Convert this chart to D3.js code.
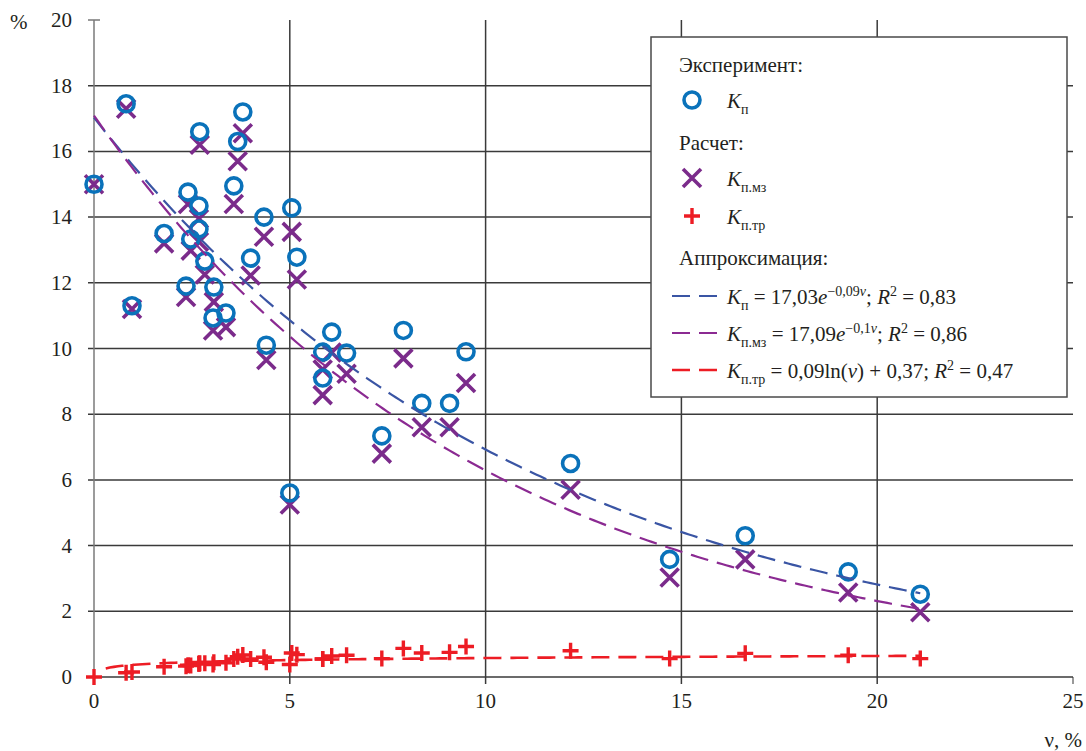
<!DOCTYPE html>
<html>
<head>
<meta charset="utf-8">
<script src="https://cdn.jsdelivr.net/npm/d3@7"></script>
<style>
  html, body { margin: 0; padding: 0; background: #fff; }
  svg { display: block; }
</style>
</head>
<body>
<svg id="chart" width="1086" height="751"></svg>
<script>
// Share of the fraction, ν (%)
const v     = [0, 0.82, 0.97, 1.79, 2.35, 2.40, 2.47, 2.68, 2.68, 2.70, 2.83, 3.04, 3.06, 3.37, 3.57, 3.67, 3.80, 4.00, 4.34, 4.40, 5.00, 5.05, 5.18, 5.84, 5.84, 6.07, 6.45, 7.35, 7.90, 8.37, 9.08, 9.50, 12.17, 14.70, 16.63, 19.26, 21.10];
// Experiment: K_п (%)
const kP    = [15.0, 17.45, 11.3, 13.5, 11.9, 14.76, 13.33, 14.34, 13.64, 16.6, 12.66, 10.93, 11.87, 11.08, 14.95, 16.3, 17.2, 12.75, 14.0, 10.1, 5.6, 14.28, 12.78, 9.89, 9.1, 10.5, 9.86, 7.34, 10.55, 8.33, 8.33, 9.9, 6.5, 3.58, 4.3, 3.2, 2.52];
// Calculation: K_п.мз (%)
const kPMz  = [15.0, 17.3, 11.2, 13.2, 11.57, 14.4, 12.98, 13.95, 13.25, 16.2, 12.25, 10.55, 11.42, 10.65, 14.4, 15.7, 16.55, 12.22, 13.4, 9.65, 5.25, 13.55, 12.1, 9.36, 8.58, 9.88, 9.23, 6.8, 9.7, 7.6, 7.6, 8.95, 5.7, 3.03, 3.58, 2.57, 1.97];
// Calculation: K_п.тр (%)
const kPTr  = [0.0, 0.13, 0.15, 0.31, 0.33, 0.36, 0.35, 0.40, 0.40, 0.42, 0.42, 0.38, 0.45, 0.43, 0.55, 0.62, 0.67, 0.55, 0.6, 0.45, 0.38, 0.73, 0.68, 0.55, 0.55, 0.64, 0.66, 0.56, 0.87, 0.73, 0.75, 0.93, 0.8, 0.56, 0.72, 0.66, 0.56];

// Approximation coefficients
const fitP   = { a: 17.03, b: -0.09 };  // a·e^(b·ν)
const fitPMz = { a: 17.09, b: -0.1 };   // a·e^(b·ν)
const fitPTr = { a: 0.09, c: 0.37 };    // a·ln(ν) + c

const xTicks = [0, 5, 10, 15, 20, 25];
const yTicks = [0, 2, 4, 6, 8, 10, 12, 14, 16, 18, 20];

const C_BLUE = "#0a72ba", C_PURPLE = "#7b2b8b", C_RED = "#ed1c24";
const C_LBLUE = "#3a55a4", C_LPURPLE = "#8b2a92";
const FONT = "'Times New Roman', 'Liberation Serif', serif";
const INK = "#231f20";
const DASH = "18,9";
const FS = 21;

const svg = d3.select("#chart");
const x = d3.scaleLinear().domain([0, 25]).range([94, 1073]);
const y = d3.scaleLinear().domain([0, 20]).range([677, 20]);

function label(g, xp, yp, str, anchor) {
  return g.append("text").attr("x", xp).attr("y", yp).attr("text-anchor", anchor || "start")
    .attr("font-size", FS).attr("fill", INK).style("font-family", FONT).text(str);
}

// Grid
const grid = svg.append("g");
yTicks.filter(t => t > 0 && t < 20).forEach(t => {
  grid.append("line").attr("x1", x(0) - 6).attr("x2", x(25)).attr("y1", y(t)).attr("y2", y(t))
    .attr("stroke", "#3a3a3a").attr("stroke-width", 1.5);
});
xTicks.filter(t => t > 0 && t < 25).forEach(t => {
  grid.append("line").attr("x1", x(t)).attr("x2", x(t)).attr("y1", y(20)).attr("y2", y(0) + 7)
    .attr("stroke", "#3a3a3a").attr("stroke-width", 1.5);
});
// top tick on y axis
grid.append("line").attr("x1", x(0) - 6).attr("x2", x(0) + 6).attr("y1", y(20)).attr("y2", y(20))
  .attr("stroke", "#555").attr("stroke-width", 1.2);
// tick at 25
grid.append("line").attr("x1", x(25)).attr("x2", x(25)).attr("y1", y(0)).attr("y2", y(0) + 7)
  .attr("stroke", "#555").attr("stroke-width", 1.2);
// Axes
svg.append("line").attr("x1", x(0)).attr("x2", x(0)).attr("y1", y(20)).attr("y2", y(0) + 7)
  .attr("stroke", "#7a7a7a").attr("stroke-width", 1.5);
svg.append("line").attr("x1", x(0) - 6).attr("x2", x(25)).attr("y1", y(0)).attr("y2", y(0))
  .attr("stroke", "#3a3a3a").attr("stroke-width", 1.5);

// Tick labels
const axisText = svg.append("g");
yTicks.forEach(d => label(axisText, 72, y(d) + 7, d, "end"));
xTicks.forEach(d => label(axisText, x(d), 708, d, "middle"));
label(axisText, 10, 29, "%");
label(axisText, 1082, 747, "ν, %", "end");

// Marker shapes
function drawCircle(g, cx, cy) {
  g.append("circle").attr("cx", cx).attr("cy", cy).attr("r", 8)
    .attr("fill", "none").attr("stroke", C_BLUE).attr("stroke-width", 3.6);
}
function drawCross(g, cx, cy) {
  const s = 9;
  g.append("path").attr("d", `M${cx - s},${cy - s}L${cx + s},${cy + s}M${cx - s},${cy + s}L${cx + s},${cy - s}`)
    .attr("stroke", C_PURPLE).attr("stroke-width", 3.6).attr("fill", "none");
}
function drawPlus(g, cx, cy) {
  const s = 8;
  g.append("path").attr("d", `M${cx - s},${cy}L${cx + s},${cy}M${cx},${cy - s}L${cx},${cy + s}`)
    .attr("stroke", C_RED).attr("stroke-width", 3.4).attr("fill", "none");
}

const pts = v.map((d, i) => ({ v: d, p: kP[i], mz: kPMz[i], tr: kPTr[i] }));
const gPlus = svg.append("g"), gCross = svg.append("g"), gCirc = svg.append("g");
pts.forEach(d => drawPlus(gPlus, x(d.v), y(d.tr)));
pts.forEach(d => drawCross(gCross, x(d.v), y(d.mz)));
pts.forEach(d => drawCircle(gCirc, x(d.v), y(d.p)));

// Trend lines
const vMax = d3.max(v);
const line = d3.line().x(d => x(d[0])).y(d => y(d[1]));
function curve(f, v0) {
  const n = 200, out = [];
  for (let i = 0; i <= n; i++) { const t = v0 + (vMax - v0) * i / n; out.push([t, f(t)]); }
  return out;
}
svg.append("path").attr("d", line(curve(t => fitP.a * Math.exp(fitP.b * t), 0)))
  .attr("fill", "none").attr("stroke", C_LBLUE).attr("stroke-width", 2.2).attr("stroke-dasharray", DASH);
svg.append("path").attr("d", line(curve(t => fitPMz.a * Math.exp(fitPMz.b * t), 0)))
  .attr("fill", "none").attr("stroke", C_LPURPLE).attr("stroke-width", 2.2).attr("stroke-dasharray", DASH);
svg.append("path").attr("d", line(curve(t => fitPTr.a * Math.log(t) + fitPTr.c, 0.3)))
  .attr("fill", "none").attr("stroke", C_RED).attr("stroke-width", 2.6).attr("stroke-dasharray", DASH);

// Legend
const lg = svg.append("g");
lg.append("rect").attr("x", 651).attr("y", 37).attr("width", 416).attr("height", 360)
  .attr("fill", "#fff").attr("stroke", "#4a4a4a").attr("stroke-width", 1.5);

function richText(xp, yp, parts) {
  const t = lg.append("text").attr("x", xp).attr("y", yp).attr("font-size", FS)
    .attr("fill", INK).style("font-family", FONT);
  let level = 0;
  parts.forEach(p => {
    const target = p.sub ? 6 : p.sup ? -8 : 0;
    const ts = t.append("tspan").text(p.t).attr("dy", target - level).style("font-family", FONT);
    level = target;
    if (p.sub || p.sup) ts.attr("font-size", 14);
    if (p.i) ts.style("font-style", "italic");
  });
  return t;
}

richText(679, 72, [{ t: "Эксперимент:" }]);
drawCircle(lg, 692, 100);
richText(727, 108, [{ t: "K", i: 1 }, { t: "п", sub: 1 }]);
richText(679, 150, [{ t: "Расчет:" }]);
drawCross(lg, 692, 178);
richText(727, 186, [{ t: "K", i: 1 }, { t: "п.мз", sub: 1 }]);
drawPlus(lg, 692, 216);
richText(727, 224, [{ t: "K", i: 1 }, { t: "п.тр", sub: 1 }]);
richText(679, 265, [{ t: "Аппроксимация:" }]);

function legLine(yp, color, w) {
  lg.append("line").attr("x1", 672).attr("x2", 717).attr("y1", yp).attr("y2", yp)
    .attr("stroke", color).attr("stroke-width", w).attr("stroke-dasharray", DASH);
}
legLine(296, C_LBLUE, 2.2);
richText(727, 304, [{ t: "K", i: 1 }, { t: "п", sub: 1 }, { t: " = 17,03" }, { t: "e", i: 1 },
  { t: "−0,09", sup: 1 }, { t: "v", sup: 1, i: 1 }, { t: "; " }, { t: "R", i: 1 }, { t: "2", sup: 1 }, { t: " = 0,83" }]);
legLine(333, C_LPURPLE, 2.2);
richText(727, 341, [{ t: "K", i: 1 }, { t: "п.мз", sub: 1 }, { t: " = 17,09" }, { t: "e", i: 1 },
  { t: "−0,1", sup: 1 }, { t: "v", sup: 1, i: 1 }, { t: "; " }, { t: "R", i: 1 }, { t: "2", sup: 1 }, { t: " = 0,86" }]);
legLine(370, C_RED, 2.6);
richText(727, 378, [{ t: "K", i: 1 }, { t: "п.тр", sub: 1 }, { t: " = 0,09ln(" }, { t: "v", i: 1 },
  { t: ") + 0,37; " }, { t: "R", i: 1 }, { t: "2", sup: 1 }, { t: " = 0,47" }]);
</script>
</body>
</html>
